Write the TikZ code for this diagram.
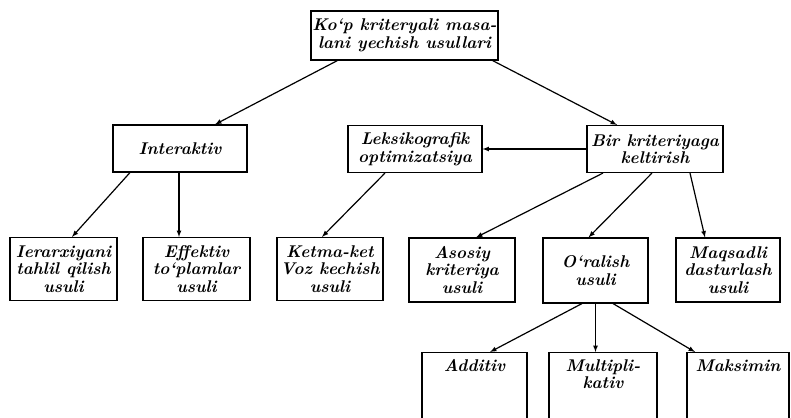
\documentclass[tikz,border=0pt]{standalone}
\usepackage{tikz}
\usetikzlibrary{calc,positioning}

\begin{document}
\begin{tikzpicture}[
  x=1pt, y=-1pt,
  txt/.style={align=center, font=\fontsize{17}{17.5}\selectfont\bfseries\itshape},
  box/.style={draw, line width=1.1pt, inner sep=1pt, txt},
  head/.style={box, minimum width=187pt, minimum height=49pt},
  mid/.style={box, minimum width=134pt, minimum height=47pt},
  leaf/.style={box, minimum width=106pt, minimum height=63pt},
  low/.style={draw, line width=1.1pt, anchor=north, minimum width=106pt, minimum height=80pt},
  lowlbl/.style={txt, anchor=north, inner sep=0pt, yshift=-7pt},
  arr/.style={-latex, line width=1.2pt}
]
\useasboundingbox (0,0) rectangle (791,417);

% levels
\node[head] (root) at (404.5,35.5) {Ko`p kriteryali masa-\\lani yechish usullari};
\node[mid] (inter) at (180,148.5) {Interaktiv};
\node[mid] (leks) at (415,149) {Leksikografik\\optimizatsiya};
\node[mid, minimum width=136pt] (bir) at (655,149) {Bir kriteriyaga\\keltirish};

\node[leaf, minimum width=107pt] (ier) at (63.5,269) {Ierarxiyani\\tahlil qilish\\usuli};
\node[leaf, minimum width=107pt] (eff) at (196.5,269) {Effektiv\\to`plamlar\\usuli};
\node[leaf] (ket) at (330,269) {Ketma-ket\\Voz kechish\\usuli};
\node[leaf, minimum height=64pt] (aso) at (462,270) {Asosiy\\kriteriya\\usuli};
\node[leaf, minimum width=105pt, minimum height=65pt] (ora) at (595.5,270.5) {O`ralish\\usuli};
\node[leaf, minimum width=104pt, minimum height=64pt] (maq) at (728,270) {Maqsadli\\dasturlash\\usuli};

\node[low, minimum width=105pt, label={[lowlbl]north:Additiv}] (add) at (474.5,352) {};
\node[low, minimum width=108pt, label={[lowlbl]north:{Multipli-\\kativ}}] (mul) at (603,352) {};
\node[low, minimum width=102pt, label={[lowlbl]north:Maksimin}] (mak) at (738,352) {};

% connectors
\coordinate (ia) at ($(inter.south)+(-1,0)$);
\draw[arr] ($(root.south west)+(27,0)$) -- ($(inter.north)+(35,0)$);
\draw[arr] ($(root.south east)+(-6,0)$) -- ($(bir.north)+(-38,0)$);
\draw[arr] (bir.west) -- (leks.east);
\draw[arr] ($(inter.south)+(-50,0)$) -- ($(ier.north)+(8.5,0)$);
\draw[arr] (ia) -- (ia |- eff.north);
\draw[arr] ($(leks.south)+(-30,0)$) -- ($(ket.north)+(-8,0)$);
\draw[arr] ($(bir.south)+(-52,0)$) -- ($(aso.north)+(14,0)$);
\draw[arr] ($(bir.south)+(-3,0)$) -- ($(ora.north)+(-7,0)$);
\draw[arr] ($(bir.south)+(35,0)$) -- ($(maq.north)+(-23,0)$);
\draw[arr] ($(ora.south)+(-13.5,0)$) -- ($(add.north)+(15.5,0)$);
\draw[arr] (ora.south) -- (ora.south |- mul.north);
\draw[arr] ($(ora.south)+(17.5,0)$) -- ($(mak.north)+(-43,0)$);
\end{tikzpicture}
\end{document}
